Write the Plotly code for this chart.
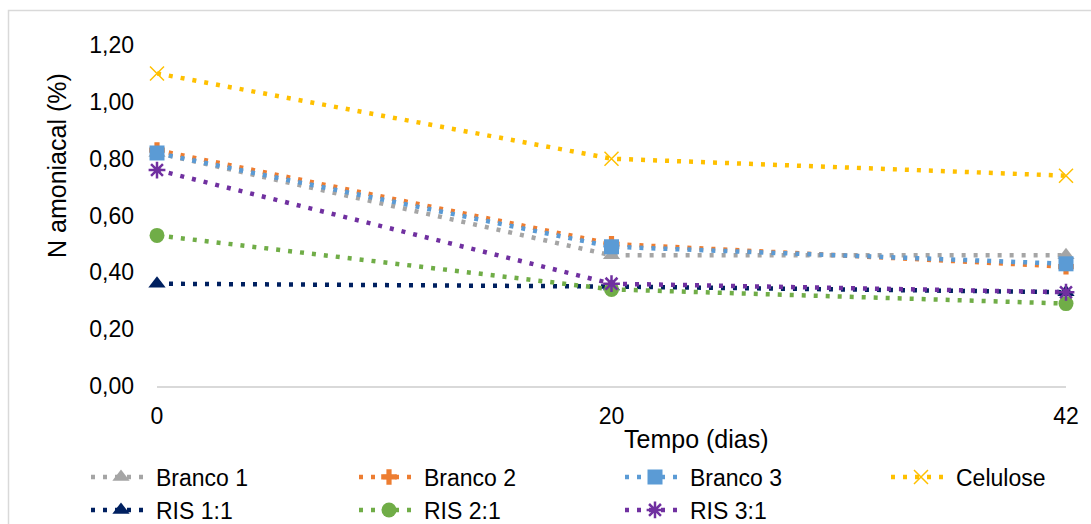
import plotly.graph_objects as go

# Sampling days (categories on the x axis)
dias = ["0", "20", "42"]

# Ammoniacal nitrogen (%) per treatment
branco_1 = [0.82, 0.46, 0.46]
branco_2 = [0.83, 0.50, 0.42]
branco_3 = [0.82, 0.49, 0.43]
celulose = [1.10, 0.80, 0.74]
ris_1_1 = [0.36, 0.35, 0.33]
ris_2_1 = [0.53, 0.34, 0.29]
ris_3_1 = [0.76, 0.36, 0.33]

series = [
    ("Branco 1", branco_1, "#A5A5A5", dict(symbol="triangle-up", size=15)),
    ("Branco 2", branco_2, "#ED7D31", dict(symbol="cross", size=13)),
    ("Branco 3", branco_3, "#5B9BD5", dict(symbol="square", size=15)),
    ("Celulose", celulose, "#FFC000", dict(symbol="x-thin-open", size=14, line=dict(width=1.5, color="#FFC000"))),
    ("RIS 1:1", ris_1_1, "#002060", dict(symbol="triangle-up", size=15)),
    ("RIS 2:1", ris_2_1, "#70AD47", dict(symbol="circle", size=15)),
    ("RIS 3:1", ris_3_1, "#7030A0", dict(symbol="asterisk-open", size=14, line=dict(width=2.5, color="#7030A0"))),
]

W, H = 1091, 524
L, R, T, B = 157, 25, 45, 138
pw, ph = W - L - R, H - T - B

# legend grid: 4 columns x 2 rows, one legend box per entry
col_x = [86, 354, 620, 886]
row_y = [477, 510]

fig = go.Figure()
legends = {}
for i, (name, vals, color, marker) in enumerate(series):
    m = dict(color=color)
    m.update(marker)
    key = "legend" if i == 0 else f"legend{i + 1}"
    fig.add_trace(go.Scatter(
        x=dias, y=vals, name=name, mode="lines+markers",
        line=dict(color=color, width=4.5, dash="4px,8px"),
        marker=m, cliponaxis=False, legend=key,
    ))
    legends[key] = dict(
        xref="container", yref="container",
        x=col_x[i % 4] / W, y=1 - row_y[i // 4] / H,
        xanchor="left", yanchor="middle",
        bgcolor="rgba(0,0,0,0)", borderwidth=0,
        itemwidth=60, font=dict(size=23),
    )

fig.update_layout(
    width=W, height=H,
    margin=dict(l=L, r=R, t=T, b=B, autoexpand=False),
    paper_bgcolor="white", plot_bgcolor="white",
    separators=",.",
    font=dict(family="Liberation Sans, Arial, sans-serif", size=23, color="#000000"),
    showlegend=True,
    **legends,
    xaxis=dict(
        type="category", range=[0, 2], showgrid=False, zeroline=False,
        showline=True, linecolor="#D9D9D9", linewidth=1.5,
        ticks="", ticklabelstandoff=9, tickfont=dict(size=23),
    ),
    yaxis=dict(
        range=[0, 1.2], dtick=0.2, tickformat=".2f", showgrid=False,
        zeroline=False, showline=False, ticks="", ticklabelstandoff=22,
        tickfont=dict(size=23),
    ),
    annotations=[
        dict(text="Tempo (dias)", xref="paper", yref="paper",
             x=(696 - L) / pw, y=(H - B - 439) / ph, showarrow=False,
             font=dict(size=25), xanchor="center", yanchor="middle"),
        dict(text="N amoniacal (%)", xref="paper", yref="paper",
             x=(57 - L) / pw, y=(H - B - 166) / ph, showarrow=False,
             textangle=-90, font=dict(size=25), xanchor="center", yanchor="middle"),
    ],
    shapes=[
        dict(type="rect", xref="paper", yref="paper",
             x0=(8.5 - L) / pw, x1=(1100 - L) / pw,
             y0=(H - B - 540) / ph, y1=(H - B - 10.5) / ph,
             line=dict(color="#D9D9D9", width=1.5), fillcolor="rgba(0,0,0,0)",
             layer="below"),
    ],
)

fig.write_html("out.html")
